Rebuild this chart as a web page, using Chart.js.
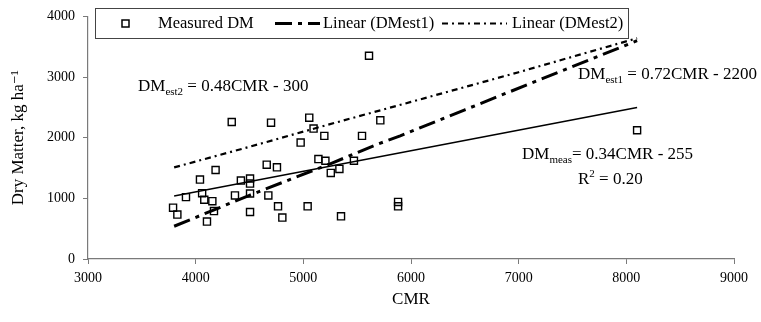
<!DOCTYPE html>
<html>
<head>
<meta charset="utf-8">
<script src="https://cdn.jsdelivr.net/npm/chart.js@4.4.0/dist/chart.umd.min.js"></script>
<style>
    html, body { margin: 0; padding: 0; background: #fff; }
    #wrap { width: 761px; height: 322px; }
</style>
</head>
<body>
<div id="wrap"><canvas id="dmChart"></canvas></div>
<script>
// Measured dry matter vs CMR
const cmr = [3790, 3830, 3910, 4040, 4060, 4080, 4105, 4155, 4170, 4185,
    4335, 4365, 4420, 4505, 4505, 4505, 4505, 4660, 4675, 4700,
    4755, 4765, 4805, 4975, 5040, 5055, 5095, 5140, 5195, 5205,
    5255, 5335, 5350, 5470, 5545, 5610, 5715, 5880, 5880, 8100];
const dmMeasured = [846, 732, 1020, 1310, 1085, 977, 617, 954, 790, 1468,
    2259, 1048, 1293, 1326, 1244, 1080, 775, 1555, 1048, 2248,
    1511, 868, 683, 1920, 868, 2330, 2150, 1648, 2030, 1620,
    1419, 1485, 704, 1620, 2030, 3351, 2287, 941, 868, 2123];

// Trend lines
const measTrendCmr = [3800, 8100];
const measTrendDm = [1037, 2499];
const est1Cmr = [3800, 4500, 5250, 5700, 5900, 6500, 8100];
const est1Dm = [540, 1050, 1570, 1900, 2030, 2460, 3600];
const est2Cmr = [3800, 4500, 5200, 6000, 7000, 8100];
const est2Dm = [1510, 1850, 2200, 2590, 3080, 3640];

const xTicks = [3000, 4000, 5000, 6000, 7000, 8000, 9000];
const yTicks = [0, 1000, 2000, 3000, 4000];

const SERIF = '"Liberation Serif", "DejaVu Serif", serif';
const AXIS_GREY = '#7a7a7a';

function pairs(xs, ys) {
    return xs.map((x, i) => ({ x: x, y: ys[i] }));
}

// Legend drawn in a box like the original
const legendBox = {
    id: 'legendBox',
    afterDraw(chart) {
        const ctx = chart.ctx;
        const ds = chart.data.datasets;
        ctx.save();
        ctx.strokeStyle = '#444';
        ctx.lineWidth = 1;
        ctx.strokeRect(95.5, 8.5, 533, 30);

        ctx.font = '16.5px ' + SERIF;
        ctx.fillStyle = '#000';
        ctx.textBaseline = 'middle';

        // square marker
        ctx.strokeStyle = '#000';
        ctx.lineWidth = 1.5;
        ctx.strokeRect(122, 20, 7, 7);
        ctx.fillText('Measured DM', 158, 24);

        // est1 line
        ctx.lineWidth = ds[2].borderWidth;
        ctx.setLineDash(ds[2].borderDash);
        ctx.beginPath(); ctx.moveTo(275, 23.5); ctx.lineTo(320, 23.5); ctx.stroke();
        ctx.setLineDash([]);
        ctx.fillText('Linear (DMest1)', 323, 24);

        // est2 line
        ctx.lineWidth = ds[3].borderWidth;
        ctx.setLineDash(ds[3].borderDash);
        ctx.beginPath(); ctx.moveTo(442, 23.5); ctx.lineTo(507, 23.5); ctx.stroke();
        ctx.setLineDash([]);
        ctx.fillText('Linear (DMest2)', 512, 24);
        ctx.restore();
    }
};

// Equation labels with sub/superscripts
function drawEq(ctx, x, y, parts, size) {
    parts.forEach(p => {
        const s = p.mode ? Math.round(size * 0.62) : size;
        ctx.font = s + 'px ' + SERIF;
        const dy = p.mode === 'sub' ? 4 : (p.mode === 'sup' ? -7 : 0);
        ctx.fillText(p.t, x, y + dy);
        x += ctx.measureText(p.t).width;
    });
}

const equations = {
    id: 'equations',
    afterDraw(chart) {
        const ctx = chart.ctx;
        ctx.save();
        ctx.fillStyle = '#000';
        ctx.textBaseline = 'alphabetic';
        drawEq(ctx, 138, 91, [{ t: 'DM' }, { t: 'est2', mode: 'sub' }, { t: ' = 0.48CMR - 300' }], 17);
        drawEq(ctx, 578, 79, [{ t: 'DM' }, { t: 'est1', mode: 'sub' }, { t: ' = 0.72CMR - 2200' }], 17);
        drawEq(ctx, 522, 159, [{ t: 'DM' }, { t: 'meas', mode: 'sub' }, { t: '= 0.34CMR - 255' }], 17);
        drawEq(ctx, 578, 184, [{ t: 'R' }, { t: '2', mode: 'sup' }, { t: ' = 0.20' }], 17);
        ctx.restore();
    }
};

document.addEventListener('DOMContentLoaded', () => {
    const ctx = document.getElementById('dmChart').getContext('2d');
    new Chart(ctx, {
        type: 'scatter',
        data: {
            datasets: [{
                label: 'Measured DM',
                data: pairs(cmr, dmMeasured),
                pointStyle: 'rect',
                pointRadius: 5,
                pointBorderWidth: 1.4,
                borderColor: '#000',
                backgroundColor: 'rgba(0,0,0,0)',
                order: 0
            }, {
                label: 'Linear (Measured DM)',
                data: pairs(measTrendCmr, measTrendDm),
                showLine: true,
                pointRadius: 0,
                borderColor: '#000',
                borderWidth: 1.5,
                order: 1
            }, {
                label: 'Linear (DMest1)',
                data: pairs(est1Cmr, est1Dm),
                showLine: true,
                pointRadius: 0,
                borderColor: '#000',
                borderWidth: 3,
                borderDash: [17, 6, 4, 6],
                order: 2
            }, {
                label: 'Linear (DMest2)',
                data: pairs(est2Cmr, est2Dm),
                showLine: true,
                pointRadius: 0,
                borderColor: '#000',
                borderWidth: 2.2,
                borderDash: [6, 4, 2, 4],
                order: 3
            }]
        },
        options: {
            responsive: true,
            maintainAspectRatio: false,
            animation: false,
            layout: { padding: { top: 15, right: 27, left: 0, bottom: 0 } },
            plugins: {
                legend: { display: false },
                tooltip: { enabled: false }
            },
            scales: {
                x: {
                    type: 'linear',
                    min: 3000,
                    max: 9000,
                    afterBuildTicks: (scale) => { scale.ticks = xTicks.map(v => ({ value: v })); },
                    afterFit: (scale) => { scale.height = 63; },
                    grid: { drawOnChartArea: false, drawTicks: true, tickLength: 5, color: AXIS_GREY },
                    border: { color: AXIS_GREY, width: 1.2 },
                    ticks: {
                        color: '#000', padding: 6, maxRotation: 0,
                        font: { family: SERIF, size: 14 },
                        callback: (v) => String(v)
                    },
                    title: {
                        display: true, text: 'CMR', color: '#000',
                        font: { family: SERIF, size: 17 }, padding: { top: 0, bottom: 12 }
                    }
                },
                y: {
                    min: 0,
                    max: 4000,
                    afterBuildTicks: (scale) => { scale.ticks = yTicks.map(v => ({ value: v })); },
                    afterFit: (scale) => { scale.width = 88; },
                    grid: { drawOnChartArea: false, drawTicks: true, tickLength: 5, color: AXIS_GREY },
                    border: { color: AXIS_GREY, width: 1.2 },
                    ticks: {
                        color: '#000', padding: 8,
                        font: { family: SERIF, size: 14 },
                        callback: (v) => String(v)
                    },
                    title: {
                        display: true, text: 'Dry Matter, kg ha\u207B\u00B9', color: '#000',
                        font: { family: SERIF, size: 17 }, padding: { top: 8, bottom: 0 }
                    }
                }
            }
        },
        plugins: [legendBox, equations]
    });
});
</script>
</body>
</html>
